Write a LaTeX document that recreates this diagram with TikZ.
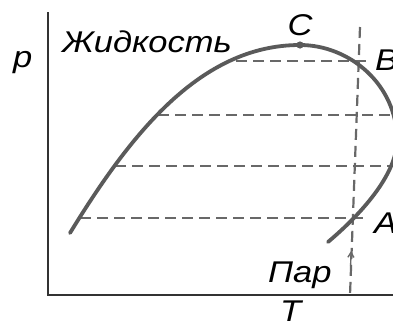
\documentclass[tikz,border=0pt]{standalone}
\usepackage{fontspec}
\newfontfamily\lblfont[FakeStretch=1.15]{Liberation Sans}
\usetikzlibrary{arrows.meta}
\definecolor{curvegray}{HTML}{5A5A5A}
\definecolor{dashgray}{HTML}{686868}

\begin{document}
\begin{tikzpicture}[x=1pt, y=-1pt,
    lbl/.style={font=\lblfont\itshape\fontsize{30}{32}\selectfont, inner sep=0pt},
    curve/.style={draw=curvegray, line width=3.8pt, line cap=round},
    isobar/.style={draw=dashgray, line width=2.2pt, dash pattern=on 11pt off 6pt},
    axis/.style={draw=black!80, line width=1.6pt},
]
\useasboundingbox (0,0) rectangle (393,322);
\clip (0,0) rectangle (393,322);

% axes
\coordinate (origin) at (48,295);
\coordinate (ptop) at (48,12);
\coordinate (tend) at (395,295);
\draw[axis] (ptop) -- (origin) -- (tend);

% isobars
\draw[isobar] (236,61) -- (371,61);
\draw[isobar] (158,115) -- (395,115);
\draw[isobar] (115,166) -- (395,166);
\draw[isobar] (80,218) -- (366,218);

% isotherm with arrow
\coordinate (ttop) at (360,27);
\coordinate (tbot) at (350,295);
\draw[isobar] (ttop) -- (tbot);
\draw[draw=dashgray, line width=1.4pt, -{Straight Barb[length=5pt, width=6pt]}]
    (350.6,266) -- (351.1,251);

% saturation curve
\coordinate (C) at (300,45);
\draw[curve] (70,233) .. controls (130,135) and (200,45) .. (C)
    .. controls (350,45) and (397,85) .. (397,140)
    .. controls (397,175) and (360,215) .. (328,242);
\fill[curvegray] (C) circle (3.6pt);

% labels
\node[lbl, anchor=base west] (p) at (13,67) {p};
\node[lbl, anchor=base west] (liquid) at (62,52) {Жидкость};
\node[lbl, anchor=base] (Clbl) at (300,35) {C};
\node[lbl, anchor=base west] (B) at (375,70) {B};
\node[lbl, anchor=base west] (A) at (374,233) {A};
\node[lbl, anchor=base west] (vapour) at (268,282) {Пар};
\node[lbl, anchor=base west] (T) at (280,321) {T};
\end{tikzpicture}
\end{document}
